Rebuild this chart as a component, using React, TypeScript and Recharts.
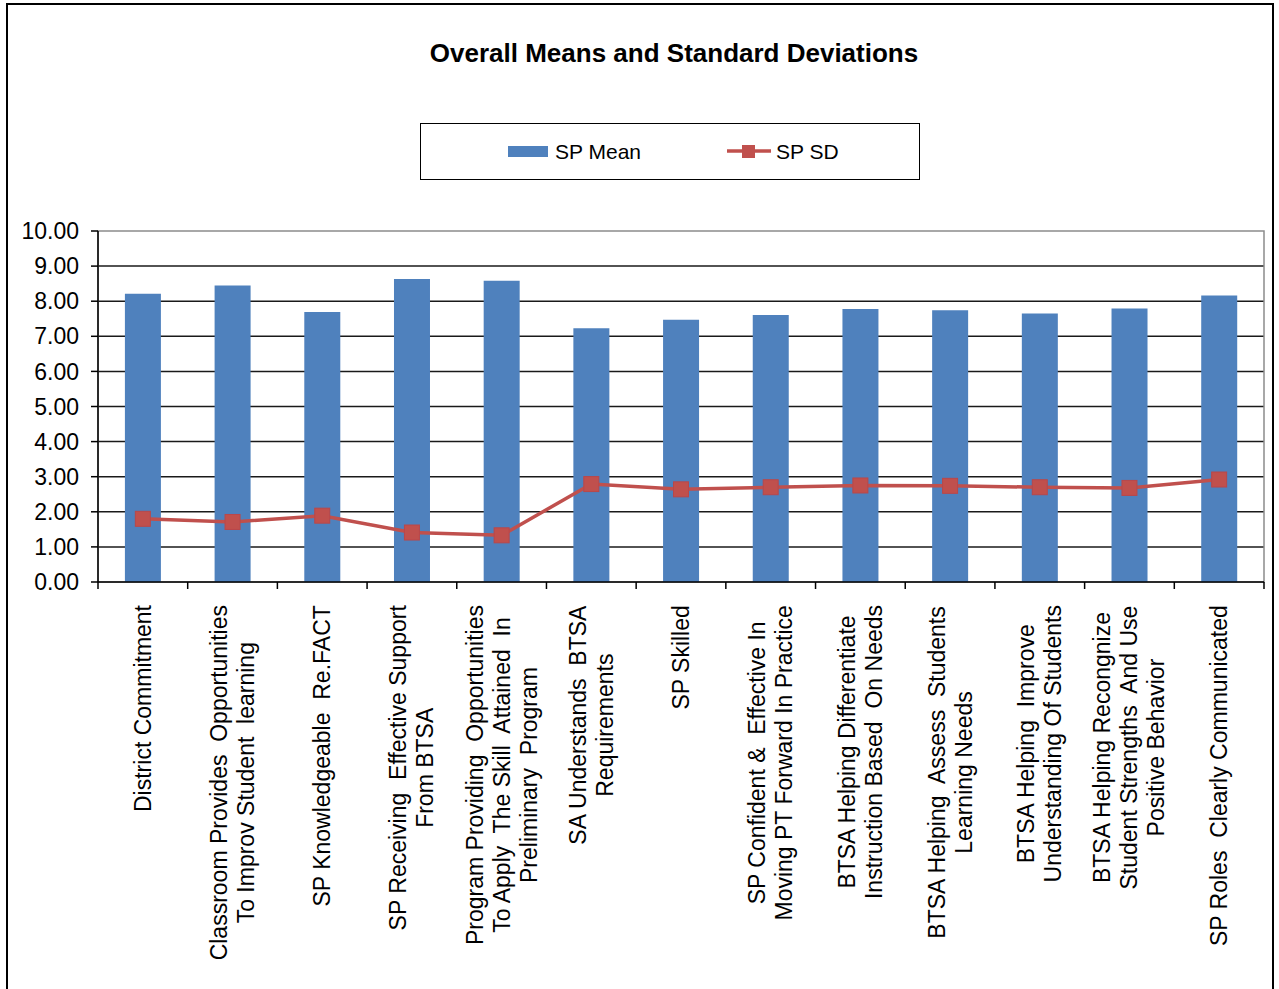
import React from 'react';
import { ComposedChart, Bar, Line, XAxis, YAxis, CartesianGrid, Legend, ReferenceArea } from 'recharts';

const categories = [
  'District Commitment',
  'Classroom Provides  Opportunities|To Improv Student  learning',
  'SP Knowledgeable  Re.FACT',
  'SP Receiving  Effective Support|From BTSA',
  'Program Providing  Opportunities|To Apply  The Skill  Attained  In|Preliminary  Program',
  'SA Understands  BTSA|Requirements',
  'SP Skilled',
  'SP Confident &  Effective In|Moving PT Forward In Practice',
  'BTSA Helping Differentiate|Instruction Based  On Needs',
  'BTSA Helping  Assess  Students|Learning Needs',
  'BTSA Helping  Improve|Understanding Of Students',
  'BTSA Helping Recongnize|Student Strengths  And Use|Positive Behavior',
  'SP Roles  Clearly Communicated',
];
const spMean = [8.21, 8.45, 7.69, 8.63, 8.58, 7.23, 7.47, 7.61, 7.78, 7.74, 7.65, 7.79, 8.16];
const spSD = [1.8, 1.71, 1.89, 1.41, 1.33, 2.79, 2.64, 2.7, 2.75, 2.74, 2.7, 2.68, 2.92];
const yTicks = [0, 1, 2, 3, 4, 5, 6, 7, 8, 9, 10];
const seriesNames = ['SP Mean', 'SP SD'];
const title = 'Overall Means and Standard Deviations';

const data = categories.map((c, i) => ({ name: c, mean: spMean[i], sd: spSD[i] }));

const FONT = "'Liberation Sans', Arial, sans-serif";
const XFONT_SIZE = 23;
const LINE_H = 27;

let ctx: CanvasRenderingContext2D | null = null;
const measure = (s: string) => {
  if (!ctx) {
    const c = document.createElement('canvas');
    ctx = c.getContext('2d');
  }
  if (!ctx) return s.length * XFONT_SIZE * 0.5;
  ctx.font = `${XFONT_SIZE}px 'Liberation Sans'`;
  return ctx.measureText(s).width;
};

const XTick = (props: any) => {
  const { x, y, payload, width, visibleTicksCount, index } = props;
  const lines = String(payload.value).split('|');
  const maxW = Math.max(...lines.map(measure));
  const top = 23;
  const cx = -(top + maxW / 2);
  const n = visibleTicksCount || categories.length;
  const half = typeof width === 'number' && width > 0 ? width / n / 2 : 0;
  return (
    <g transform={`translate(${x},${y})`}>
      {half > 0 && <line x1={-half} y1={0} x2={-half} y2={7} stroke="#000" strokeWidth={1.5} />}
      {half > 0 && index === n - 1 && <line x1={half} y1={0} x2={half} y2={7} stroke="#000" strokeWidth={1.5} />}
      {lines.map((l, i) => (
        <text
          key={i}
          transform="rotate(-90)"
          x={cx}
          y={(i - (lines.length - 1) / 2) * LINE_H}
          textAnchor="middle"
          dominantBaseline="central"
          fontSize={XFONT_SIZE}
          fontFamily={FONT}
          fill="#000"
          style={{ whiteSpace: 'pre' }}
        >
          {l}
        </text>
      ))}
    </g>
  );
};

const SquareDot = (props: any) => {
  const { cx, cy, index } = props;
  if (cx == null || cy == null) return <g key={index} />;
  const s = 15;
  return <rect key={index} x={cx - s / 2} y={cy - s / 2} width={s} height={s} fill="#C0504D" stroke="#B9474A" strokeWidth={1} />;
};

const LegendBox = () => (
  <div
    style={{
      position: 'relative',
      width: 500,
      height: 57,
      border: '1.5px solid #000',
      boxSizing: 'border-box',
      fontFamily: FONT,
      fontSize: 21,
      color: '#000',
    }}
  >
    <div style={{ position: 'absolute', left: 87, top: 22, width: 40, height: 11, background: '#4F81BD' }} />
    <div style={{ position: 'absolute', left: 134, top: 15, lineHeight: '26px', whiteSpace: 'nowrap' }}>{seriesNames[0]}</div>
    <svg style={{ position: 'absolute', left: 306, top: 18 }} width={44} height={18}>
      <line x1={0} y1={9} x2={44} y2={9} stroke="#C0504D" strokeWidth={3.5} />
      <rect x={15} y={3} width={13} height={13} fill="#C0504D" />
    </svg>
    <div style={{ position: 'absolute', left: 355, top: 15, lineHeight: '26px', whiteSpace: 'nowrap' }}>{seriesNames[1]}</div>
  </div>
);

export default function App() {
  return (
    <div style={{ position: 'absolute', left: 0, top: 0, width: 1279, height: 989, overflow: 'hidden', background: '#fff' }}>
      <div
        style={{
          position: 'absolute',
          left: 6,
          top: 3,
          width: 1268,
          height: 1010,
          border: '2px solid #000',
          boxSizing: 'border-box',
        }}
      />
      <div
        style={{
          position: 'absolute',
          left: 674,
          top: 37,
          transform: 'translateX(-50%)',
          fontFamily: FONT,
          fontWeight: 'bold',
          fontSize: 26,
          lineHeight: '32px',
          whiteSpace: 'nowrap',
          color: '#000',
        }}
      >
        {title}
      </div>
      <div style={{ position: 'absolute', left: 0, top: 0 }}>
        <ComposedChart width={1279} height={989} data={data} margin={{ top: 231, right: 15, bottom: 0, left: 8 }} barCategoryGap="30%">
          <ReferenceArea yAxisId="left" xAxisId="cat" y1={0} y2={10} fill="none" stroke="#8c8c8c" strokeWidth={1.5} />
          <CartesianGrid yAxisId="left" xAxisId="cat" vertical={false} horizontalValues={[1, 2, 3, 4, 5, 6, 7, 8, 9]} stroke="#1a1a1a" strokeWidth={1.5} />
          <XAxis
            xAxisId="cat"
            dataKey="name"
            height={407}
            interval={0}
            tick={<XTick />}
            tickLine={false}
            tickSize={0}
            tickMargin={0}
            axisLine={{ stroke: '#000', strokeWidth: 1.5 }}
          />
          <YAxis
            yAxisId="left"
            domain={[0, 10]}
            ticks={yTicks}
            interval={0}
            width={90}
            tickSize={7}
            tickMargin={12}
            tickFormatter={(v: number) => v.toFixed(2)}
            tick={{ fontSize: 23, fontFamily: FONT, fill: '#000' }}
            tickLine={{ stroke: '#000', strokeWidth: 1.5 }}
            axisLine={{ stroke: '#000', strokeWidth: 1.5 }}
          />
          <Legend
            layout="horizontal"
            verticalAlign="middle"
            align="center"
            wrapperStyle={{ position: 'absolute', left: 420, top: 123, width: 500, height: 57 }}
            content={() => <LegendBox />}
          />
          <Bar yAxisId="left" xAxisId="cat" dataKey="mean" name={seriesNames[0]} fill="#4F81BD" isAnimationActive={false} />
          <Line
            yAxisId="left"
            xAxisId="cat"
            dataKey="sd"
            name={seriesNames[1]}
            type="linear"
            stroke="#C0504D"
            strokeWidth={3.5}
            dot={<SquareDot />}
            activeDot={false}
            isAnimationActive={false}
          />
        </ComposedChart>
      </div>
    </div>
  );
}
